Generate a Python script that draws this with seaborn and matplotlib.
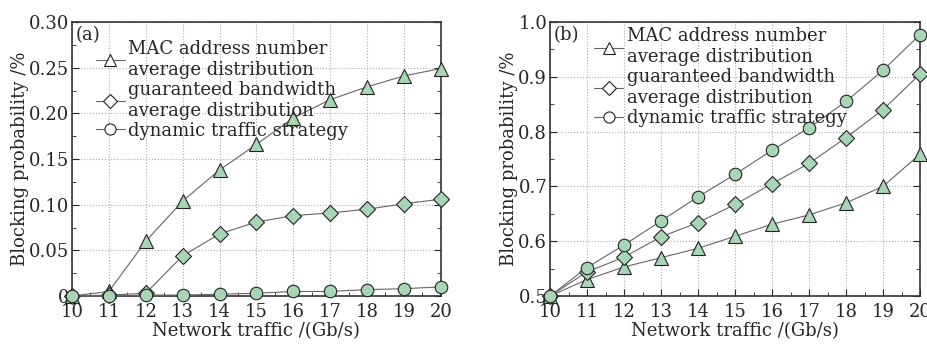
import matplotlib
matplotlib.use('Agg')
import matplotlib.pyplot as plt
import seaborn as sns
from matplotlib.lines import Line2D
from matplotlib.ticker import MultipleLocator

traffic = [10, 11, 12, 13, 14, 15, 16, 17, 18, 19, 20]

# (a)
mac_a = [0.0, 0.005, 0.060, 0.104, 0.138, 0.166, 0.195, 0.215, 0.229, 0.241, 0.249]
gbw_a = [0.0, 0.001, 0.003, 0.044, 0.068, 0.081, 0.088, 0.091, 0.095, 0.101, 0.106]
dyn_a = [0.0, 0.0, 0.001, 0.001, 0.002, 0.003, 0.005, 0.005, 0.007, 0.008, 0.010]

# (b)
mac_b = [0.500, 0.530, 0.553, 0.570, 0.587, 0.609, 0.631, 0.648, 0.670, 0.700, 0.759]
gbw_b = [0.500, 0.544, 0.571, 0.608, 0.634, 0.667, 0.705, 0.742, 0.789, 0.840, 0.905]
dyn_b = [0.500, 0.552, 0.593, 0.637, 0.681, 0.722, 0.766, 0.807, 0.855, 0.912, 0.977]

labels = ['MAC address number\naverage distribution',
          'guaranteed bandwidth\naverage distribution',
          'dynamic traffic strategy']
markers = ['^', 'D', 'o']
msizes = [10, 8, 9]

sns.set_style('ticks')
plt.rcParams['font.family'] = ['DejaVu Serif']

fig = plt.figure(figsize=(9.28, 3.44), dpi=100)
ax1 = fig.add_axes([0.0776, 0.1395, 0.3974, 0.7965])
ax2 = fig.add_axes([0.5927, 0.1395, 0.3987, 0.7965])

green = '#a8d5b4'

def draw(ax, series, ylim, ymajor, tag, leg_pos):
    for ys, m, ms in zip(series, markers, msizes):
        sns.lineplot(x=traffic, y=ys, ax=ax, color='#666666', lw=0.8,
                     marker=m, markersize=ms, markerfacecolor=green,
                     markeredgecolor='#222222', markeredgewidth=0.8,
                     clip_on=False, zorder=3)
    ax.set_xlim(10, 20)
    ax.set_ylim(*ylim)
    ax.xaxis.set_major_locator(MultipleLocator(1))
    ax.xaxis.set_minor_locator(MultipleLocator(0.5))
    ax.yaxis.set_major_locator(MultipleLocator(ymajor))
    ax.yaxis.set_minor_locator(MultipleLocator(ymajor / 2))
    ax.tick_params(which='both', direction='in', right=True, top=False,
                   labelsize=13)
    ax.tick_params(axis='x', pad=5)
    ax.tick_params(axis='y', pad=2)
    ax.tick_params(which='major', length=5)
    ax.tick_params(which='minor', length=3)
    ax.grid(True, which='major', linestyle=':', color='#aaaaaa', lw=0.8)
    for s in ax.spines.values():
        s.set_linewidth(1.2)
        s.set_color('#333333')
    ax.set_xlabel('Network traffic /(Gb/s)', fontsize=13, labelpad=1)
    ax.set_ylabel('Blocking probability /%', fontsize=13, labelpad=0)
    ax.text(0.01, 0.985, tag, transform=ax.transAxes, fontsize=13,
            va='top', ha='left')
    handles = [Line2D([0], [0], color='#666666', lw=0.8, marker=m,
                      markersize=ms - 1, markerfacecolor='white',
                      markeredgecolor='#222222', markeredgewidth=0.8)
               for m, ms in zip(markers, msizes)]
    ax.legend(handles, labels, loc='upper left', bbox_to_anchor=leg_pos,
              frameon=False, fontsize=13, handlelength=1.6, handletextpad=0.2,
              labelspacing=0.12, borderaxespad=0.2, borderpad=0.1)

draw(ax1, [mac_a, gbw_a, dyn_a], (0, 0.30), 0.05, '(a)', (0.05, 0.955))
ax1.set_yticks([0, 0.05, 0.10, 0.15, 0.20, 0.25, 0.30])
ax1.set_yticklabels(['0', '0.05', '0.10', '0.15', '0.20', '0.25', '0.30'])
draw(ax2, [mac_b, gbw_b, dyn_b], (0.5, 1.0), 0.1, '(b)', (0.105, 1.0))

fig.savefig('out.png', dpi=100)
